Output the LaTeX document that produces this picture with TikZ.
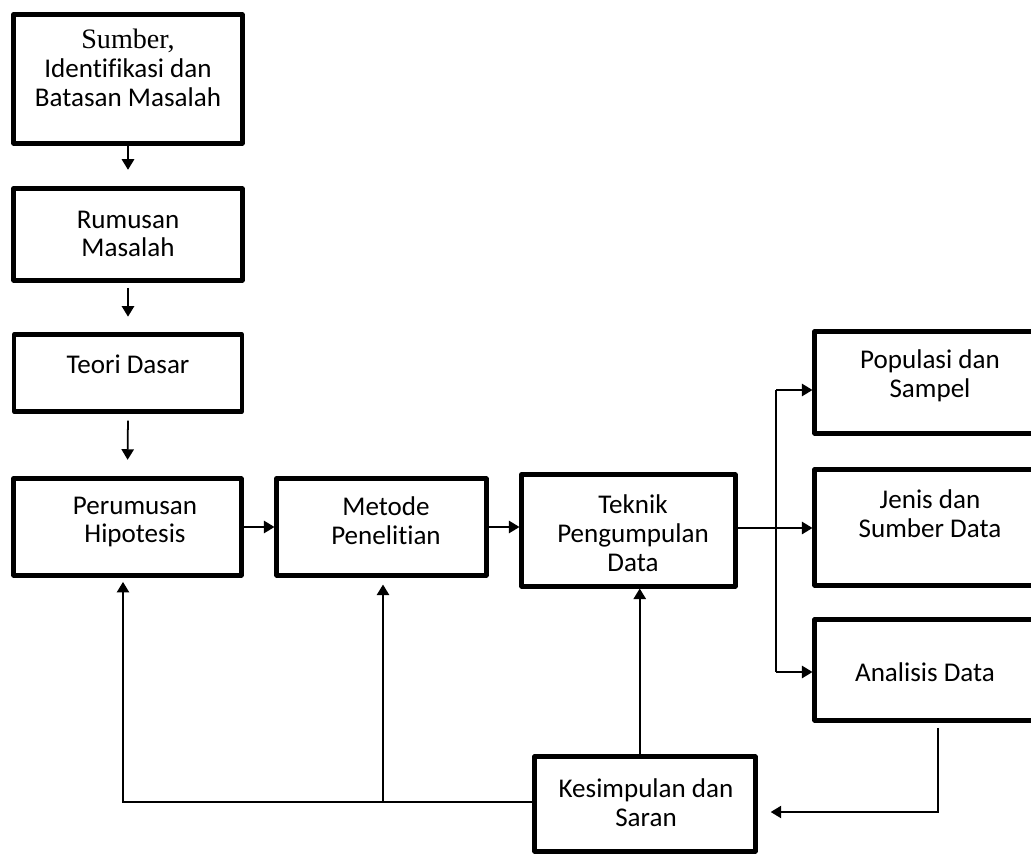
\documentclass[tikz,border=0pt]{standalone}
\usepackage{fontspec}
\setmainfont{Carlito}[Ligatures=NoCommon]
\newfontfamily\hurufserif{Liberation Serif}
\usetikzlibrary{arrows.meta,calc}

\begin{document}
\begin{tikzpicture}[x=0.02cm, y=-0.02cm, >={Triangle[length=6pt,width=7pt]},
	kotak/.style 2 args={draw, line width=2.3pt, line join=round, inner sep=0pt,
		minimum width={#1*0.02cm}, minimum height={#2*0.02cm}},
	teks/.style={align=center, inner sep=0pt, font=\fontsize{15.4}{16.4}\selectfont},
	garis/.style={line width=1pt}]
	% --- Ukuran gambar ---
	\useasboundingbox (0,0) rectangle (1031,855);
	
	% --- Kotak ---
	\node[kotak={229}{129}] (sumber)     at (128,79)    {};
	\node[kotak={229}{92}]  (rumusan)    at (128,234.5) {};
	\node[kotak={228}{77}]  (teori)      at (128,373)   {};
	\node[kotak={228}{97}]  (hipotesis)  at (127.5,527) {};
	\node[kotak={210}{97}]  (metode)     at (381.5,527) {};
	\node[kotak={214}{112}] (teknik)     at (628.5,530.5) {};
	\node[kotak={231}{102}] (populasi)   at (930,382.5) {};
	\node[kotak={231}{116}] (jenis)      at (930,527.5) {};
	\node[kotak={231}{101}] (analisis)   at (930,670)   {};
	\node[kotak={221}{95}]  (kesimpulan) at (645,804)   {};
	
	% --- Teks ---
	\node[teks] (sumberteks) at (128,68) {{\hurufserif\fontsize{16}{16.4}\selectfont Sumber,}\\Identifikasi dan\\Batasan Masalah};
	\node[teks] (rumusanteks) at (128,234) {Rumusan\\Masalah};
	\node[teks] (teoriteks) at (128,364) {Teori Dasar};
	\node[teks] (hipotesisteks) at (135,522) {Perumusan\\Hipotesis};
	\node[teks] (metodeteks) at (386,521) {Metode\\Penelitian};
	\node[teks] (teknikteks) at (633,533) {Teknik\\Pengumpulan\\Data};
	\node[teks] (populasiteks) at (930,376) {Populasi dan\\Sampel};
	\node[teks] (jenisteks) at (930,514) {Jenis dan\\Sumber Data};
	\node[teks] (analisisteks) at (925,672) {Analisis Data};
	\node[teks] (kesimpulanteks) at (646,803) {Kesimpulan dan\\Saran};
	
	% --- Panah ---
	\draw[garis,->,shorten >=9.5pt] (sumber.south) -- (rumusan.north);
	\draw[garis,->,shorten <=3pt,shorten >=9pt] (rumusan.south) -- (teori.north);
	\draw[garis,->,shorten <=4pt,shorten >=9.5pt] (teori.south) -- (hipotesis.north);
	\draw[garis,->] (hipotesis.east) -- (metode.west);
	\draw[garis,->] (metode.east) -- (metode.east -| teknik.west);
	
	% cabang ke kanan
	\coordinate (cabang) at (776,528);
	\coordinate (atas) at (776,390);
	\coordinate (bawah) at (776,672);
	\draw[garis] (teknik.east |- cabang) -- (cabang);
	\draw[garis] (atas) -- (bawah);
	\draw[garis,->] (cabang) -- (cabang -| jenis.west);
	\draw[garis,->] (atas) -- (atas -| populasi.west);
	\draw[garis,->] (bawah) -- (bawah -| analisis.west);
	
	% umpan balik
	\coordinate (belok) at (938,812);
	\draw[garis,->,shorten <=3pt,shorten >=7.5pt] (analisis.south -| belok) -- (belok) -- (belok -| kesimpulan.east);
	\draw[garis,->] ([xshift=-3pt]kesimpulan.north) -- ([xshift=-3pt]kesimpulan.north |- teknik.south);
	\coordinate (kiri) at (123,802);
	\coordinate (tengah) at (383,802);
	\draw[garis,->,shorten >=2.5pt] (kesimpulan.west |- kiri) -- (kiri) -- (kiri |- hipotesis.south);
	\draw[garis,->,shorten >=4pt] (tengah) -- (tengah |- metode.south);
\end{tikzpicture}
\end{document}
